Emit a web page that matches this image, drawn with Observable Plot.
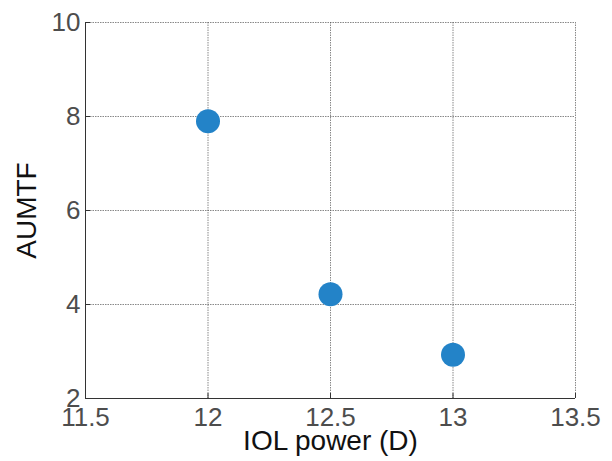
<!DOCTYPE html>
<html>
<head>
<meta charset="utf-8">
<script src="https://cdn.jsdelivr.net/npm/d3@7"></script>
<script src="https://cdn.jsdelivr.net/npm/@observablehq/plot@0.6"></script>
<style>
  html, body { margin: 0; padding: 0; background: #fff; }
  svg { display: block; }
  g[aria-label="x-axis label"], g[aria-label="y-axis label"] { fill: #111; font-size: 28px; }
</style>
</head>
<body>
<div id="chart"></div>
<script>
const iolPower = [12, 12.5, 13];
const aumtf = [7.9, 4.22, 2.93];
const xTicks = [11.5, 12, 12.5, 13, 13.5];
const yTicks = [2, 4, 6, 8, 10];

const data = iolPower.map((p, i) => ({power: p, aumtf: aumtf[i]}));
const font = "'Liberation Sans', Arial, Helvetica, sans-serif";

const chart = Plot.plot({
  width: 612,
  height: 461,
  marginLeft: 85,
  marginRight: 37,
  marginTop: 22,
  marginBottom: 63,
  style: {fontFamily: font, background: "#fff"},
  x: {domain: [11.5, 13.5]},
  y: {domain: [2, 10]},
  marks: [
    Plot.gridX(xTicks, {stroke: "#555", strokeOpacity: 0.7, strokeDasharray: "1.5,1"}),
    Plot.gridY(yTicks, {stroke: "#555", strokeOpacity: 0.7, strokeDasharray: "1.5,1"}),
    Plot.ruleX([11.5], {stroke: "#333", strokeWidth: 1}),
    Plot.ruleY([2], {stroke: "#333", strokeWidth: 1}),
    Plot.ruleX(xTicks, {y1: 2, y2: 2, insetTop: -5, stroke: "#333"}),
    Plot.ruleY(yTicks, {x1: 11.5, x2: 11.5, insetRight: -5, stroke: "#333"}),
    Plot.axisX({ticks: xTicks, tickSize: 0, tickPadding: 9, fontSize: 26, color: "#4d4d4d",
      tickFormat: d => String(d), label: "IOL power (D)", labelAnchor: "center", labelArrow: "none", labelOffset: 51}),
    Plot.axisY({ticks: yTicks, tickSize: 0, tickPadding: 5, fontSize: 26, color: "#4d4d4d",
      tickFormat: d => String(d), label: "AUMTF", labelAnchor: "center", labelArrow: "none", labelOffset: 69}),
    Plot.dot(data, {x: "power", y: "aumtf", r: 12, fill: "#2383C8", stroke: "none"})
  ]
});
document.getElementById("chart").appendChild(chart);
</script>
</body>
</html>
